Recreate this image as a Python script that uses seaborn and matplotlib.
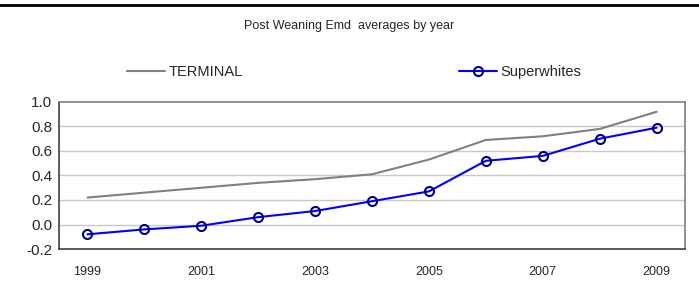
import pandas as pd
import matplotlib
matplotlib.use('Agg')
import matplotlib.pyplot as plt
from matplotlib.lines import Line2D
import seaborn as sns

# data
years = [1999, 2000, 2001, 2002, 2003, 2004, 2005, 2006, 2007, 2008, 2009]
terminal = [0.22, 0.26, 0.30, 0.34, 0.37, 0.41, 0.53, 0.69, 0.72, 0.78, 0.92]
superwhites = [-0.08, -0.04, -0.01, 0.06, 0.11, 0.19, 0.27, 0.52, 0.56, 0.70, 0.79]
label_years = ['1999', '2001', '2003', '2005', '2007', '2009']

sns.set_theme(style='white')
plt.rcParams['font.family'] = ['Liberation Sans', 'DejaVu Sans']

df = pd.DataFrame({'idx': range(len(years)), 'TERMINAL': terminal, 'Superwhites': superwhites})

fig = plt.figure(figsize=(6.99, 3.05), dpi=100)
ax = fig.add_axes([0.0844, 0.1836, 0.8956, 0.482])

for v in [0.0, 0.2, 0.4, 0.6, 0.8]:
    ax.axhline(v, color='#c8c8c8', lw=1, zorder=0)

sns.lineplot(data=df, x='idx', y='TERMINAL', ax=ax, color='#808080', lw=1.5, label='TERMINAL')
sns.lineplot(data=df, x='idx', y='Superwhites', ax=ax, color='#0000ff', lw=1.5,
             marker='o', markersize=6.5, markerfacecolor='none', markeredgecolor='#000080',
             markeredgewidth=1.5, label='Superwhites')

ax.set_xlim(-0.5, 10.5)
ax.set_ylim(-0.2, 1.0)
yt = [-0.2, 0.0, 0.2, 0.4, 0.6, 0.8, 1.0]
ax.set_yticks(yt)
ax.set_yticklabels(['%.1f' % v for v in yt], fontsize=11)
ax.tick_params(axis='y', length=3, width=1, color='#404040', pad=2)

ax.set_xticks([i - 0.5 for i in range(12)])
ax.set_xticklabels([''] * 12)
ax.set_xticks(list(range(0, 11, 2)), minor=True)
ax.set_xticklabels(label_years, minor=True, fontsize=9)
ax.tick_params(axis='x', which='major', length=4, width=1, color='#404040', direction='out')
ax.tick_params(axis='x', which='minor', length=0, pad=12)
ax.set_xlabel('')
ax.set_ylabel('')

for s in ['left', 'bottom']:
    ax.spines[s].set_color('#404040')
    ax.spines[s].set_linewidth(1.2)
for s in ['top', 'right']:
    ax.spines[s].set_color('#808080')
    ax.spines[s].set_linewidth(1.2)

ax.legend(loc='center left', bbox_to_anchor=(0.163, 0.765),
          bbox_transform=fig.transFigure, ncol=2, frameon=False, fontsize=10.5,
          handlelength=2.6, columnspacing=14.8, handletextpad=0.25)

fig.text(0.5, 0.915, 'Post Weaning Emd  averages by year', ha='center', va='center', fontsize=9)
fig.add_artist(Line2D([0, 1], [0.983, 0.983], transform=fig.transFigure, color='black', lw=2))

fig.savefig('out.png', dpi=100)
